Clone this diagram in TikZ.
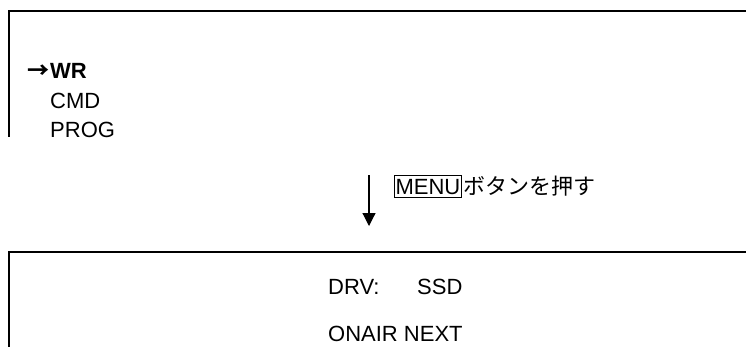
\documentclass[tikz,border=0pt]{standalone}
\usepackage{fontspec}
\setmainfont{Liberation Sans}
\newfontfamily\jpfont{Noto Sans CJK JP}
\usetikzlibrary{arrows.meta}
\begin{document}
\begin{tikzpicture}[x=1pt,y=-1pt,
  frame/.style={line width=1.3pt, line cap=rect},
  txt/.style={anchor=base west, inner sep=0pt, font=\fontsize{22pt}{26pt}\selectfont},
  flow/.style={line width=1.2pt, -{Triangle[width=13pt,length=13pt]}},
  keybox/.style={draw, line width=1.2pt, anchor=base west, inner xsep=1pt, inner ysep=3pt, font=\fontsize{22pt}{26pt}\selectfont}
  ]
\useasboundingbox (0,0) rectangle (746,346);
% top screen
\coordinate (t1) at (9,136);
\coordinate (t2) at (9,11);
\coordinate (t3) at (746,11);
\draw[frame] (t1) -- (t2) -- (t3);
\node[txt] (cur) at (27,78) {\jpfont\bfseries →};
\node[txt] (wr) at (50,78) {\bfseries WR};
\node[txt] (cmd) at (50,108) {CMD};
\node[txt] (prog) at (50,137) {PROG};
% arrow and instruction
\coordinate (a1) at (369,175);
\coordinate (a2) at (369,226);
\draw[flow] (a1) -- (a2);
\node[keybox] (menu) at (394,194) {MENU};
\node[txt] (push) at ([xshift=1pt]menu.base east) {\jpfont ボタンを押す};
% bottom screen
\coordinate (b1) at (9,346);
\coordinate (b2) at (9,252);
\coordinate (b3) at (746,252);
\draw[frame] (b1) -- (b2) -- (b3);
\node[txt] (drv) at (328,294) {DRV:};
\node[txt] (ssd) at (417,294) {SSD};
\node[txt] (onair) at (328,341) {ONAIR NEXT};
\end{tikzpicture}
\end{document}
